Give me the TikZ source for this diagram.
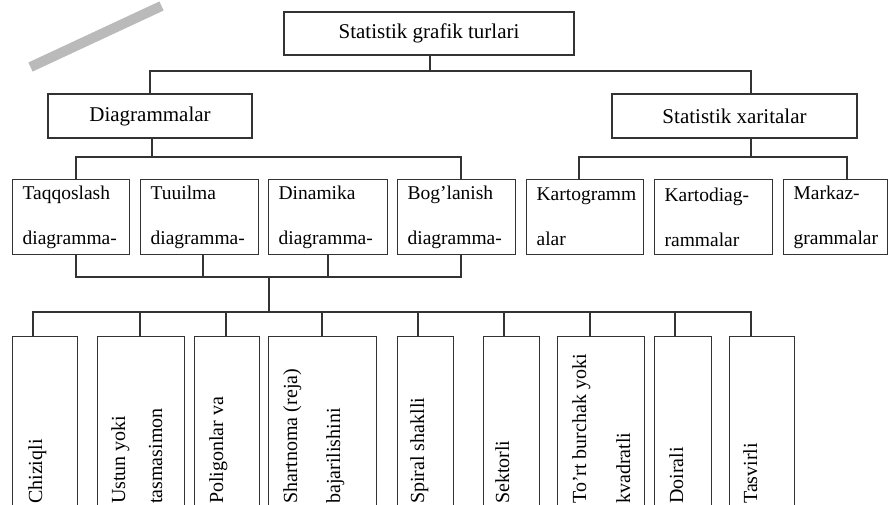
\documentclass[tikz,border=0pt]{standalone}
\usepackage{fontspec}
\setmainfont{Liberation Serif}
\usetikzlibrary{calc}
\begin{document}
\begin{tikzpicture}[x=1pt,y=-1pt,
  box/.style={draw=black!80, line width=1.2pt, rectangle, inner sep=0pt},
  wire/.style={draw=black!80, line width=1.2pt},
  headtext/.style={font=\fontsize{21}{25}\selectfont},
  kind/.style={box, anchor=north west, minimum height=75pt, inner xsep=10pt,
    align=left, font=\fontsize{19.5}{45}\selectfont},
  leaf/.style={box, anchor=north west, minimum height=240pt},
  vlabel/.style={rotate=90, anchor=base west, inner sep=0pt,
    font=\fontsize{20}{24}\selectfont},
  marker/.style={line width=10pt, draw=black!27},
]
\useasboundingbox (0,0) rectangle (888,505);
\fill[white] (0,0) rectangle (888,505);
\clip (0,0) rectangle (888,505);

% grey stroke in the upper left corner
\draw[marker] (30.5,67) -- (161.5,6);

% top level
\node[box, minimum width=290pt, minimum height=43pt, headtext] (top) at (429,33.5) {Statistik grafik turlari};
\node[box, minimum width=204pt, minimum height=44pt, headtext] (diag) at (150,116) {Diagrammalar};
\node[box, minimum width=245pt, minimum height=44pt, headtext] (statx) at (734.5,116) {Statistik xaritalar};

% second level
\node[kind, text width=97pt] (t1) at (12,179) {Taqqoslash\\diagramma-};
\node[kind, text width=98pt] (t2) at (140,179) {Tuuilma\\diagramma-};
\node[kind, text width=99pt] (t3) at (268,179) {Dinamika\\diagramma-};
\node[kind, text width=98pt] (t4) at (397,179) {Bog’lanish\\diagramma-};
\node[kind, text width=97pt] (k1) at (526,179) {Kartogramm\\alar};
\node[kind, text width=98pt] (k2) at (654,179) {Kartodiag-\\rammalar};
\node[kind, text width=84pt] (k3) at (783,179) {Markaz-\\grammalar};

% third level
\node[leaf, minimum width=65pt]  (l1) at (12,336) {};
\node[leaf, minimum width=87pt]  (l2) at (97,336) {};
\node[leaf, minimum width=65pt]  (l3) at (194,336) {};
\node[leaf, minimum width=108pt] (l4) at (268,336) {};
\node[leaf, minimum width=56pt]  (l5) at (397,336) {};
\node[leaf, minimum width=56pt]  (l6) at (483,336) {};
\node[leaf, minimum width=87pt]  (l7) at (557,336) {};
\node[leaf, minimum width=57pt]  (l8) at (654,336) {};
\node[leaf, minimum width=65pt]  (l9) at (729,336) {};

\node[vlabel] (v1)  at (42,504)  {Chiziqli};
\node[vlabel] (v2a) at (125,504) {Ustun yoki};
\node[vlabel] (v2b) at (162,504) {tasmasimon};
\node[vlabel] (v3)  at (223,504) {Poligonlar va};
\node[vlabel] (v4a) at (297,504) {Shartnoma (reja)};
\node[vlabel] (v4b) at (340,504) {bajarilishini};
\node[vlabel] (v5)  at (424,504) {Spiral shaklli};
\node[vlabel] (v6)  at (509,504) {Sektorli};
\node[vlabel] (v7a) at (586,504) {To’rt burchak yoki};
\node[vlabel] (v7b) at (630,504) {kvadratli};
\node[vlabel] (v8)  at (683,504) {Doirali};
\node[vlabel] (v9)  at (757,504) {Tasvirli};

% bus junctions
\coordinate (a0) at (430,71);
\coordinate (aL) at (150,71);
\coordinate (aR) at (751,71);
\coordinate (b0) at (152,157);
\coordinate (b1) at (76,157);
\coordinate (b4) at (461,157);
\coordinate (c0) at (751,157);
\coordinate (c1) at (579,157);
\coordinate (c3) at (847,157);
\coordinate (d0) at (269,277);
\coordinate (d1) at (76,277);
\coordinate (d2) at (203,277);
\coordinate (d3) at (328,277);
\coordinate (d4) at (461,277);
\coordinate (e0) at (269,312);
\coordinate (e1) at (33,312);
\coordinate (e2) at (140,312);
\coordinate (e3) at (226,312);
\coordinate (e4) at (322,312);
\coordinate (e5) at (418,312);
\coordinate (e6) at (504,312);
\coordinate (e7) at (590,312);
\coordinate (e8) at (675,312);
\coordinate (e9) at (751,312);

% connectors
\draw[wire] (top.south -| a0) -- (a0);
\draw[wire] (diag.north -| aL) -- (aL) -- (aR) -- (statx.north -| aR);
\draw[wire] (diag.south -| b0) -- (b0);
\draw[wire] (t1.north -| b1) -- (b1) -- (b4) -- (t4.north -| b4);
\draw[wire] (statx.south -| c0) -- (c0);
\draw[wire] (k1.north -| c1) -- (c1) -- (c3) -- (k3.north -| c3);
\draw[wire] (t1.south -| d1) -- (d1) -- (d4) -- (t4.south -| d4);
\draw[wire] (t2.south -| d2) -- (d2);
\draw[wire] (t3.south -| d3) -- (d3);
\draw[wire] (d0) -- (e0);
\draw[wire] (l1.north -| e1) -- (e1) -- (e9) -- (l9.north -| e9);
\draw[wire] (e2) -- (l2.north -| e2);
\draw[wire] (e3) -- (l3.north -| e3);
\draw[wire] (e4) -- (l4.north -| e4);
\draw[wire] (e5) -- (l5.north -| e5);
\draw[wire] (e6) -- (l6.north -| e6);
\draw[wire] (e7) -- (l7.north -| e7);
\draw[wire] (e8) -- (l8.north -| e8);
\end{tikzpicture}
\end{document}
